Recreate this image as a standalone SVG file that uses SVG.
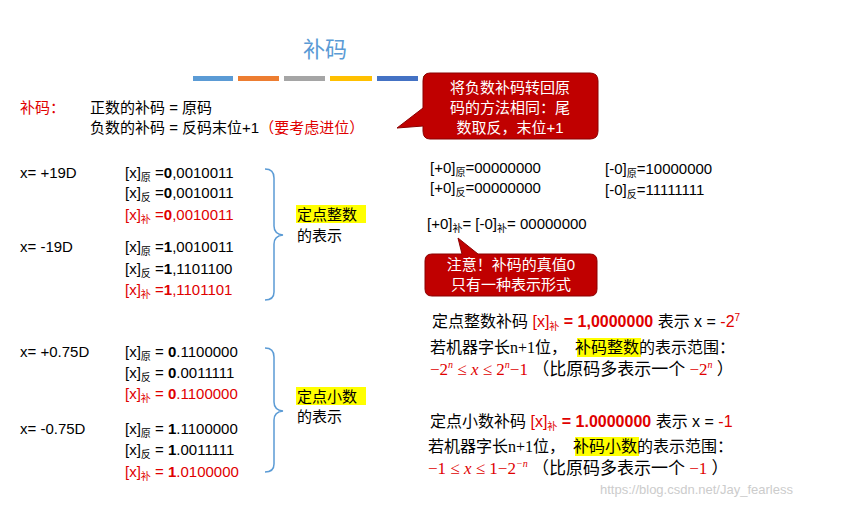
<svg xmlns="http://www.w3.org/2000/svg" width="849" height="507" viewBox="0 0 849 507">
<style>
text{font-family:"Liberation Sans","Noto Sans CJK SC",sans-serif;font-size:15px;fill:#000}
.r{fill:#E00000}.w{fill:#fff;font-size:15px}.s{font-size:10px}.b{font-weight:bold}
.n{font-size:16px}
.m{font-family:"Liberation Serif","Noto Sans CJK SC",serif;font-size:16px}
.q{font-size:17px}
.hl{fill:#FFFF00}
</style>
<rect width="849" height="507" fill="#fff"/>
<g id="title"><text x="325" y="57" text-anchor="middle" style="font-size:22px;fill:#5B9BD5">补码</text>
<rect x="193" y="76" width="40" height="5" fill="#5B9BD5"/><rect x="238" y="76" width="41" height="5" fill="#ED7D31"/><rect x="284" y="76" width="41" height="5" fill="#A5A5A5"/><rect x="330" y="76" width="42" height="5" fill="#FFC000"/><rect x="377" y="76" width="41" height="5" fill="#4472C4"/><rect x="423" y="76" width="20" height="5" fill="#70AD47"/></g>
<g id="callout1"><path d="M430,73 H590 Q598,73 598,81 V131 Q598,139 590,139 H430 Q423,139 423,131 V126 L397,128 L423,108 V81 Q423,73 430,73 Z" fill="#C00000" stroke="#8B0000"/>
<text class="w" x="510" y="93" text-anchor="middle">将负数补码转回原</text><text class="w" x="510" y="113" text-anchor="middle">码的方法相同：尾</text><text class="w" x="510" y="133" text-anchor="middle">数取反，末位+1</text></g>
<g id="def"><text class="r" x="20" y="113">补码：</text><text x="90" y="113">正数的补码 = 原码</text><text x="90" y="133">负数的补码 = 反码末位+1<tspan class="r">（要考虑进位）</tspan></text></g>
<g id="int">
<text x="20" y="178">x= +19D</text>
<text x="125" y="178">[x]<tspan class="s" dy="3">原</tspan><tspan dy="-3"> =</tspan><tspan class="b">0</tspan>,0010011</text>
<text x="125" y="198">[x]<tspan class="s" dy="3">反</tspan><tspan dy="-3"> =</tspan><tspan class="b">0</tspan>,0010011</text>
<text class="r" x="125" y="220">[x]<tspan class="s r" dy="3">补</tspan><tspan dy="-3"> =</tspan><tspan class="b">0</tspan>,0010011</text>
<text x="20" y="252">x= -19D</text>
<text x="125" y="252">[x]<tspan class="s" dy="3">原</tspan><tspan dy="-3"> =</tspan><tspan class="b">1</tspan>,0010011</text>
<text x="125" y="274">[x]<tspan class="s" dy="3">反</tspan><tspan dy="-3"> =</tspan><tspan class="b">1</tspan>,1101100</text>
<text class="r" x="125" y="295">[x]<tspan class="s r" dy="3">补</tspan><tspan dy="-3"> =</tspan><tspan class="b">1</tspan>,1101101</text>
<path d="M265,169 Q274,169 274,178 V226 Q274,234 283,235 Q274,236 274,244 V292 Q274,300 265,300" fill="none" stroke="#5B9BD5" stroke-width="1.5"/>
<rect class="hl" x="296" y="205" width="70" height="18"/><text x="297" y="220">定点整数</text><text x="297" y="241">的表示</text></g>
<g id="frac">
<text x="20" y="357">x= +0.75D</text>
<text x="125" y="357">[x]<tspan class="s" dy="3">原</tspan><tspan dy="-3"> = </tspan><tspan class="b">0</tspan>.1100000</text>
<text x="125" y="378">[x]<tspan class="s" dy="3">反</tspan><tspan dy="-3"> = </tspan><tspan class="b">0</tspan>.0011111</text>
<text class="r" x="125" y="399">[x]<tspan class="s r" dy="3">补</tspan><tspan dy="-3"> = </tspan><tspan class="b">0</tspan>.1100000</text>
<text x="20" y="434">x= -0.75D</text>
<text x="125" y="434">[x]<tspan class="s" dy="3">原</tspan><tspan dy="-3"> = </tspan><tspan class="b">1</tspan>.1100000</text>
<text x="125" y="455">[x]<tspan class="s" dy="3">反</tspan><tspan dy="-3"> = </tspan><tspan class="b">1</tspan>.0011111</text>
<text class="r" x="125" y="477">[x]<tspan class="s r" dy="3">补</tspan><tspan dy="-3"> = </tspan><tspan class="b">1</tspan>.0100000</text>
<path d="M265,348 Q274,348 274,357 V402 Q274,410 283,411 Q274,412 274,420 V464 Q274,472 265,472" fill="none" stroke="#5B9BD5" stroke-width="1.5"/>
<rect class="hl" x="296" y="387" width="70" height="18"/><text x="297" y="402">定点小数</text><text x="297" y="422">的表示</text></g>
<g id="zero">
<text x="430" y="173">[+0]<tspan class="s" dy="3">原</tspan><tspan dy="-3">=00000000</tspan></text>
<text x="430" y="193">[+0]<tspan class="s" dy="3">反</tspan><tspan dy="-3">=00000000</tspan></text>
<text x="605" y="174">[-0]<tspan class="s" dy="3">原</tspan><tspan dy="-3">=10000000</tspan></text>
<text x="605" y="195">[-0]<tspan class="s" dy="3">反</tspan><tspan dy="-3">=11111111</tspan></text>
<text x="427" y="229">[+0]<tspan class="s" dy="3">补</tspan><tspan dy="-3">= [-0]</tspan><tspan class="s" dy="3">补</tspan><tspan dy="-3">= 00000000</tspan></text></g>
<g id="callout2"><path d="M462,254 L458,238 L478,254 H590 Q597,254 597,261 V289 Q597,296 590,296 H432 Q425,296 425,289 V261 Q425,254 432,254 Z" fill="#C00000" stroke="#8B0000"/>
<text class="w" x="511" y="270" text-anchor="middle">注意！补码的真值0</text><text class="w" x="511" y="290" text-anchor="middle">只有一种表示形式</text></g>
<g id="notes">
<text class="n" x="432" y="327">定点整数补码 <tspan class="r">[x]</tspan><tspan class="s r" dy="3">补</tspan><tspan dy="-3" class="r b"> = 1,0000000</tspan> 表示 x = <tspan class="r">-2</tspan><tspan class="r s" dy="-6">7</tspan></text>
<rect class="hl" x="577" y="338" width="64" height="19"/>
<text class="m" x="430" y="353">若机器字长n+1位，<tspan dx="8">补码整数的表示范围：</tspan></text>
<text class="m q r" x="430" y="375">−2<tspan class="s" dy="-7" font-style="italic">n</tspan><tspan dy="7">  ≤ </tspan><tspan font-style="italic">x</tspan> ≤ 2<tspan class="s" dy="-7" font-style="italic">n</tspan><tspan dy="7">−1 </tspan><tspan style="fill:#000">（比原码多表示一个 </tspan>−2<tspan class="s" dy="-7" font-style="italic">n</tspan><tspan dy="7" style="fill:#000"> ）</tspan></text>
<text class="n" x="430" y="427">定点小数补码 <tspan class="r">[x]</tspan><tspan class="s r" dy="3">补</tspan><tspan dy="-3" class="r b"> = 1.0000000</tspan> 表示 x = <tspan class="r">-1</tspan></text>
<rect class="hl" x="575" y="437" width="64" height="19"/>
<text class="m" x="428" y="452">若机器字长n+1位，<tspan dx="8">补码小数的表示范围：</tspan></text>
<text class="m q r" x="428" y="474">−1  ≤ <tspan font-style="italic">x</tspan> ≤ 1−2<tspan class="s" dy="-7" font-style="italic">−n</tspan><tspan dy="7" style="fill:#000"> （比原码多表示一个 </tspan>−1<tspan style="fill:#000"> ）</tspan></text>
<text x="600" y="494" style="fill:#ccc;font-size:13px">https://blog.csdn.net/Jay_fearless</text></g>
</svg>
